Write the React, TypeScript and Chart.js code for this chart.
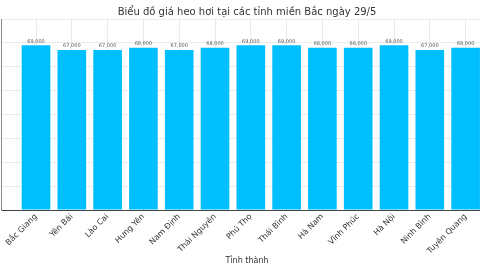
import React, { useEffect, useRef } from "react";
import { Chart, registerables } from "chart.js";

Chart.register(...registerables);

const categories: string[] = [
  "Bắc Giang", "Yên Bái", "Lào Cai", "Hưng Yên", "Nam Định", "Thái Nguyên",
  "Phú Thọ", "Thái Bình", "Hà Nam", "Vĩnh Phúc", "Hà Nội", "Ninh Bình", "Tuyên Quang",
];
const prices: number[] = [
  69000, 67000, 67000, 68000, 67000, 68000, 69000, 69000, 68000, 68000, 69000, 67000, 68000,
];
const titleText = "Biểu đồ giá heo hơi tại các tỉnh miền Bắc ngày 29/5";
const xTitle = "Tỉnh thành";

const valueLabels = {
  id: "valueLabels",
  afterDatasetsDraw(chart: any) {
    const ctx = chart.ctx;
    const meta = chart.getDatasetMeta(0);
    ctx.save();
    ctx.font = "5px 'DejaVu Sans'";
    ctx.fillStyle = "#555";
    ctx.textAlign = "center";
    ctx.textBaseline = "bottom";
    meta.data.forEach((el: any, i: number) => {
      ctx.fillText(prices[i].toLocaleString("en-US"), el.x, el.y - 1.5);
    });
    ctx.restore();
  },
};

export default function App() {
  const ref = useRef<HTMLCanvasElement>(null);
  useEffect(() => {
    if (!ref.current) return;
    Chart.defaults.font.family = "'DejaVu Sans'";
    const chart = new Chart(ref.current, {
      type: "bar",
      data: {
        datasets: [
          {
            data: categories.map((c, i) => ({ x: i, y: prices[i] })),
            backgroundColor: "#00BFFF",
            borderWidth: 0,
            categoryPercentage: 1,
            barPercentage: 0.8,
          },
        ],
      },
      options: {
        responsive: false,
        animation: false,
        layout: { padding: { left: 1, right: 9, top: 0, bottom: 0 } },
        plugins: {
          legend: { display: false },
          tooltip: { enabled: false },
          title: {
            display: true,
            text: titleText,
            color: "#333",
            font: { size: 10, weight: "normal" },
            padding: { top: 6, bottom: 1 },
          },
        },
        scales: {
          x: {
            type: "linear",
            offset: false,
            min: -0.978,
            max: 12.765,
            afterBuildTicks: (scale: any) => {
              scale.ticks = categories.map((_, i) => ({ value: i }));
            },
            afterFit: (scale: any) => {
              scale.height = 60;
            },
            ticks: {
              callback: (v: any) => categories[v] ?? "",
              minRotation: 45,
              maxRotation: 45,
              autoSkip: false,
              color: "#333",
              font: { size: 8 },
              padding: 2,
            },
            grid: { color: "rgba(0,0,0,0.08)", drawTicks: false, offset: false },
            border: { display: true, color: "#444", width: 1 },
            title: {
              display: true,
              text: xTitle,
              color: "#333",
              font: { size: 8 },
              padding: { top: 0, bottom: 4 },
            },
          },
          y: {
            min: 0,
            max: 80000,
            ticks: { display: false, stepSize: 10000 },
            grid: { color: "rgba(0,0,0,0.08)", drawTicks: false },
            border: { display: true, color: "#888", width: 1 },
          },
        },
      },
      plugins: [valueLabels],
    } as any);
    return () => chart.destroy();
  }, []);
  return (
    <div style={{ position: "fixed", left: 0, top: 0, width: 480, height: 270, overflow: "hidden", background: "#fff" }}>
      <canvas ref={ref} width={502} height={270} style={{ width: 502, height: 270, display: "block" }} />
    </div>
  );
}
